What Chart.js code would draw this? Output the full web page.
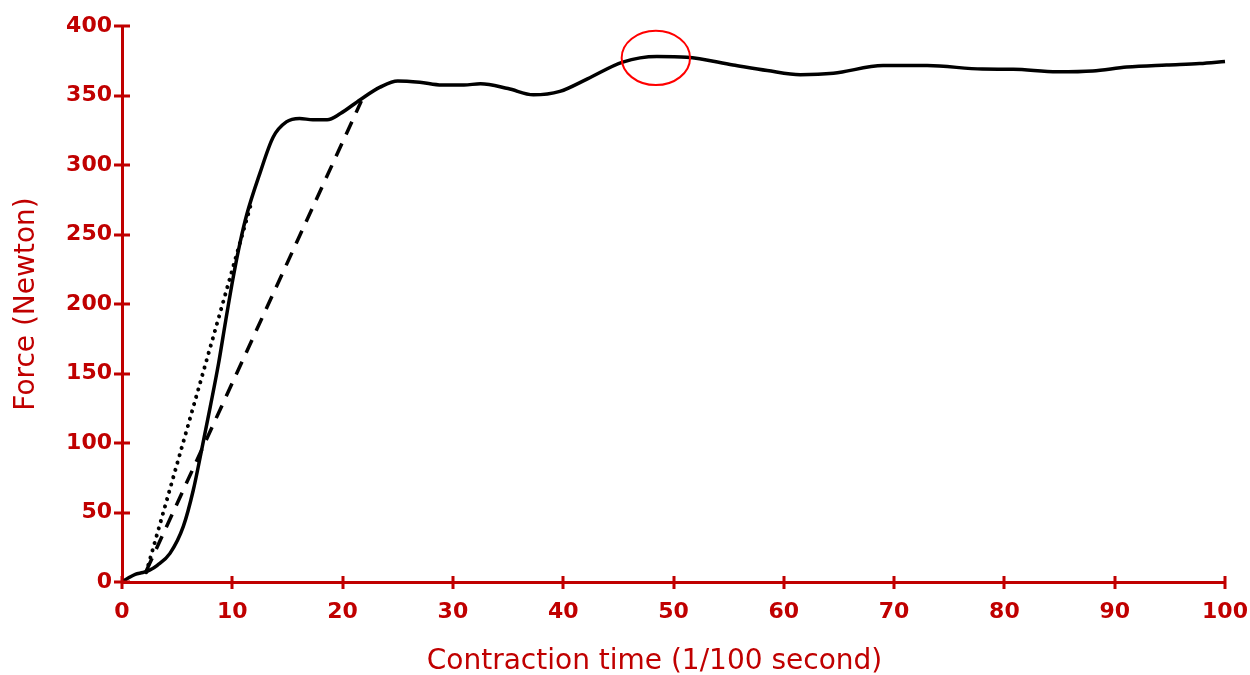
<!DOCTYPE html>
<html lang="en">
<head>
    <meta charset="UTF-8">
    <title>Force vs contraction time</title>
    <style>
        html, body {
            margin: 0;
            padding: 0;
            background-color: #fff;
        }
        .chart-container {
            position: relative;
            width: 1250px;
            height: 675px;
        }
    </style>
    <script src="https://cdn.jsdelivr.net/npm/chart.js"></script>
</head>
<body>
    <div class="chart-container">
        <canvas id="forceChart"></canvas>
    </div>

    <script>
        // Measured force curve: time (1/100 s) and force (N)
        const timeValues = [0, 0.6, 1.2, 1.9, 2.5, 3.2, 4.35, 5.56, 6.46, 7.22, 8.0, 8.75, 9.4, 10.1, 10.7, 11.3,
            12.5, 13.7, 14.9, 16.1, 17.3, 18.6, 19.8, 21.6, 23.4, 25, 27, 29, 31, 32.5, 35, 37.3, 39.7, 42.2,
            45.4, 48.5, 51.2, 55.4, 58.5, 61.5, 64.5, 69, 73, 78, 80.8, 84.8, 88, 91.1, 94.7, 97.7, 100];
        const forceValues = [0, 3, 5.5, 6.8, 8.5, 12, 20.6, 40, 66, 95, 126, 157, 188, 220, 244, 264,
            294, 320, 331, 333.5, 332.5, 332.5, 337, 347, 356, 360.5, 359.5, 357.5, 357.5, 358.5, 355, 350.5, 353, 362,
            374, 378, 377.5, 372, 368, 365, 366, 371.5, 371.5, 369, 368.8, 367, 367.6, 370.5, 372, 373, 374.5];

        // Tangent lines (start and end points)
        const dottedTime = [2.2, 11.7];
        const dottedForce = [7, 272];
        const dashedTime = [2.2, 21.7];
        const dashedForce = [8, 346];

        // Peak marker (centre and half-extent in data units)
        const peakTime = 48.4;
        const peakForce = 377;
        const peakHalfTime = 3.1;
        const peakHalfForce = 19.5;

        const xTicks = [0, 10, 20, 30, 40, 50, 60, 70, 80, 90, 100];
        const yTicks = [0, 50, 100, 150, 200, 250, 300, 350, 400];
        const xTitle = 'Contraction time (1/100 second)';

        const axisRed = '#c00000';
        const fontFamily = "'DejaVu Sans', Verdana, sans-serif";

        function toPoints(xs, ys) {
            return xs.map((x, i) => ({ x: x, y: ys[i] }));
        }

        // Tick marks that cross the axis line, the x-axis title and the red ellipse around the peak
        const axisMarks = {
            id: 'axisMarks',
            afterDatasetsDraw(chart) {
                const ctx = chart.ctx;
                const xs = chart.scales.x;
                const ys = chart.scales.y;
                const area = chart.chartArea;

                ctx.save();
                ctx.strokeStyle = axisRed;
                ctx.lineWidth = 3;
                ctx.beginPath();
                xTicks.forEach(v => {
                    const px = Math.round(xs.getPixelForValue(v));
                    ctx.moveTo(px, area.bottom - 6);
                    ctx.lineTo(px, area.bottom + 7);
                });
                yTicks.forEach(v => {
                    const py = Math.round(ys.getPixelForValue(v));
                    ctx.moveTo(area.left - 8, py);
                    ctx.lineTo(area.left + 8, py);
                });
                ctx.stroke();

                // axis title sits a little left of the plot centre
                ctx.fillStyle = axisRed;
                ctx.font = '28px ' + fontFamily;
                ctx.textAlign = 'center';
                ctx.textBaseline = 'middle';
                ctx.fillText(xTitle, (area.left + area.right) / 2 - 19, xs.bottom - 13);

                const cx = xs.getPixelForValue(peakTime);
                const cy = ys.getPixelForValue(peakForce);
                const rx = Math.abs(xs.getPixelForValue(peakTime + peakHalfTime) - cx);
                const ry = Math.abs(ys.getPixelForValue(peakForce + peakHalfForce) - cy);
                ctx.strokeStyle = '#ff0000';
                ctx.lineWidth = 2;
                ctx.beginPath();
                ctx.ellipse(cx, cy, rx, ry, 0, 0, Math.PI * 2);
                ctx.stroke();
                ctx.restore();
            }
        };

        new Chart(document.getElementById('forceChart'), {
            type: 'line',
            data: {
                datasets: [
                    {
                        label: 'Force',
                        data: toPoints(timeValues, forceValues),
                        borderColor: '#000',
                        borderWidth: 3.5,
                        pointRadius: 0,
                        cubicInterpolationMode: 'monotone',
                        fill: false,
                        clip: false
                    },
                    {
                        label: 'Dotted tangent',
                        data: toPoints(dottedTime, dottedForce),
                        borderColor: '#000',
                        borderWidth: 4,
                        borderDash: [0.1, 7.5],
                        borderCapStyle: 'round',
                        pointRadius: 0,
                        tension: 0,
                        fill: false
                    },
                    {
                        label: 'Dashed tangent',
                        data: toPoints(dashedTime, dashedForce),
                        borderColor: '#000',
                        borderWidth: 3.5,
                        borderDash: [14, 10],
                        pointRadius: 0,
                        tension: 0,
                        fill: false
                    }
                ]
            },
            options: {
                responsive: true,
                maintainAspectRatio: false,
                animation: false,
                layout: {
                    padding: { top: 26, right: 25, left: 0, bottom: 0 }
                },
                plugins: {
                    legend: { display: false },
                    tooltip: { enabled: false }
                },
                scales: {
                    x: {
                        type: 'linear',
                        min: 0,
                        max: 100,
                        afterBuildTicks: scale => {
                            scale.ticks = xTicks.map(v => ({ value: v }));
                        },
                        afterFit: scale => {
                            scale.height = 93;
                            scale.paddingLeft = 0;
                            scale.paddingRight = 0;
                        },
                        grid: { display: false, drawTicks: false },
                        border: { display: true, color: axisRed, width: 3 },
                        ticks: {
                            color: axisRed,
                            padding: 17,
                            maxRotation: 0,
                            font: { family: fontFamily, size: 22, weight: 'bold' }
                        },
                        title: { display: false }
                    },
                    y: {
                        type: 'linear',
                        min: 0,
                        max: 400,
                        afterBuildTicks: scale => {
                            scale.ticks = yTicks.map(v => ({ value: v }));
                        },
                        afterFit: scale => {
                            scale.width = 122;
                        },
                        grid: { display: false, drawTicks: false },
                        border: { display: true, color: axisRed, width: 3 },
                        ticks: {
                            color: axisRed,
                            padding: 10,
                            font: { family: fontFamily, size: 22, weight: 'bold' }
                        },
                        title: {
                            display: true,
                            text: 'Force (Newton)',
                            color: axisRed,
                            padding: { top: 13, bottom: 0 },
                            font: { family: fontFamily, size: 28, lineHeight: 1 }
                        }
                    }
                }
            },
            plugins: [axisMarks]
        });
    </script>
</body>
</html>
